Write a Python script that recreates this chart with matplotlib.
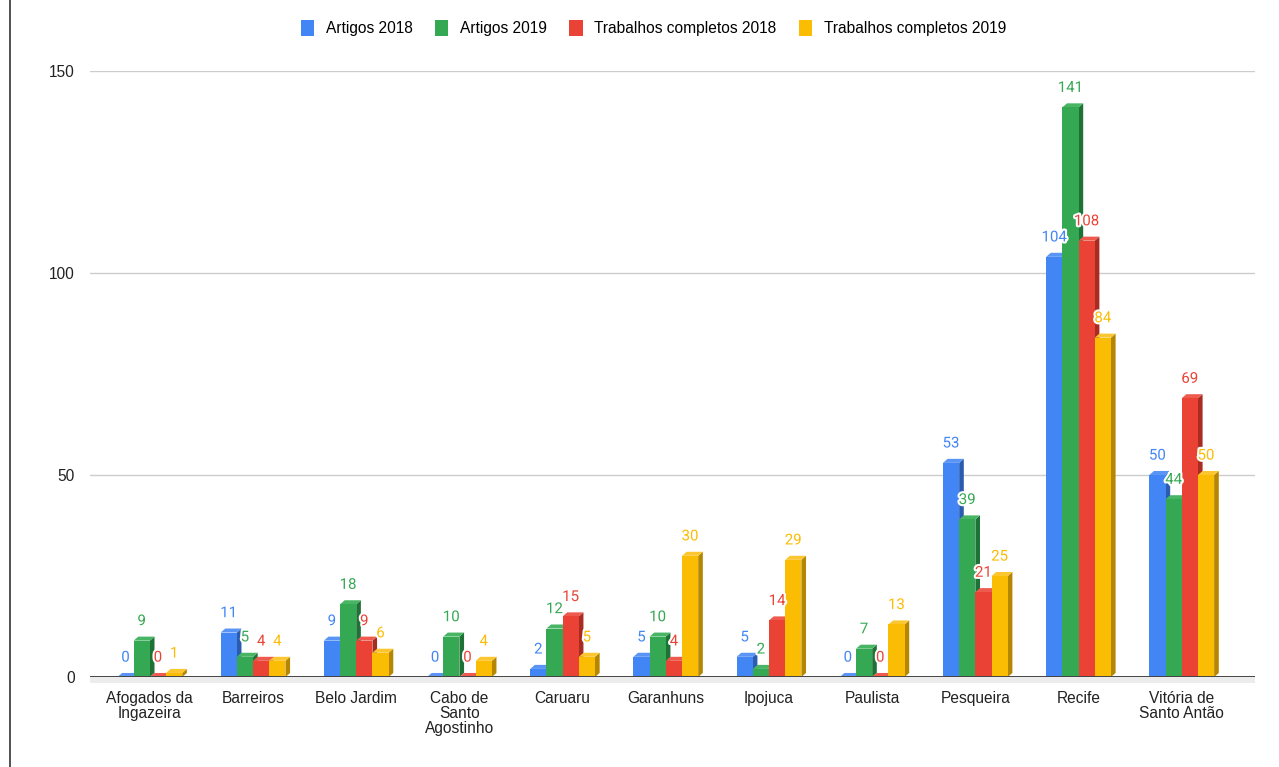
import matplotlib
matplotlib.use("Agg")
import matplotlib.pyplot as plt
import matplotlib.patheffects as pe
from matplotlib.patches import Polygon, Patch
from matplotlib.lines import Line2D
import numpy as np

categories = ["Afogados da\nIngazeira", "Barreiros", "Belo Jardim", "Cabo de\nSanto\nAgostinho",
              "Caruaru", "Garanhuns", "Ipojuca", "Paulista", "Pesqueira", "Recife",
              "Vitória de\nSanto Antão"]
series_names = ["Artigos 2018", "Artigos 2019", "Trabalhos completos 2018", "Trabalhos completos 2019"]
artigos_2018 = [0, 11, 9, 0, 2, 5, 5, 0, 53, 104, 50]
artigos_2019 = [9, 5, 18, 10, 12, 10, 2, 7, 39, 141, 44]
trabalhos_2018 = [0, 4, 9, 0, 15, 4, 14, 0, 21, 108, 69]
trabalhos_2019 = [1, 4, 6, 4, 5, 30, 29, 13, 25, 84, 50]
yticks = [0, 50, 100, 150]

colors = ["#4285F4", "#34A853", "#EA4335", "#FBBC04"]
side_colors = ["#2c5cb0", "#1f7236", "#a82c22", "#b58600"]
top_colors = ["#5a95f5", "#48b565", "#ee5a4d", "#fcc630"]

all_series = [artigos_2018, artigos_2019, trabalhos_2018, trabalhos_2019]

fig = plt.figure(figsize=(12.79, 7.67), dpi=100)
ax = fig.add_axes([90 / 1279, 1 - 677 / 767, (1255 - 90) / 1279, (677 - 71) / 767])
ax.set_xlim(-0.58, 10.71)
ax.set_ylim(0, 150)

# grid
for t in yticks[1:]:
    ax.axhline(t, color="#cccccc", lw=1, zorder=0)
ax.axhline(0, color="#444444", lw=1.4, zorder=50)
ax.fill_between([-0.58, 10.71], -1.6, 0, color="#ececec", clip_on=False, zorder=0, lw=0)

w = 0.157
dx = 0.045
dy = 1.0
x = np.arange(len(categories))
n = len(all_series)
z = 2
for s, vals in enumerate(all_series):
    offs = (s - (n - 1) / 2) * w
    for i, v in enumerate(vals):
        xc = x[i] + offs
        l, r = xc - w / 2, xc + w / 2
        front = Polygon([(l, 0), (r, 0), (r, v), (l, v)], closed=True,
                        facecolor=colors[s], edgecolor="none", zorder=z + 0.3, clip_on=False)
        side = Polygon([(r, 0), (r + dx, dy), (r + dx, v + dy), (r, v)], closed=True,
                       facecolor=side_colors[s], edgecolor="none", zorder=z + 0.1, clip_on=False)
        top = Polygon([(l, v), (l + dx, v + dy), (r + dx, v + dy), (r, v)], closed=True,
                      facecolor=top_colors[s], edgecolor="none", zorder=z + 0.2, clip_on=False)
        ax.add_patch(side)
        ax.add_patch(top)
        ax.add_patch(front)
        ax.text(xc, v + 4.8, str(v), ha="center", va="center", fontsize=10.8,
                family="Roboto", color=colors[s], zorder=100,
                path_effects=[pe.withStroke(linewidth=3, foreground="white")])
    z += 1

for sp in ax.spines.values():
    sp.set_visible(False)
ax.set_yticks(yticks)
ax.set_yticklabels([str(t) for t in yticks], family="Liberation Sans", fontsize=11.2, color="#222222")
ax.tick_params(axis="y", length=0, pad=11)
ax.set_xticks(x)
ax.set_xticklabels(categories, family="Liberation Sans", fontsize=11.2, color="#222222",
                   linespacing=1.0)
ax.tick_params(axis="x", length=0, pad=10)

handles = [Patch(facecolor=c, edgecolor="none") for c in colors]
fig.legend(handles, series_names, loc="center", bbox_to_anchor=(0.511, 1 - 28 / 767), ncol=4,
           frameon=False, prop={"family": "Liberation Sans", "size": 11.2},
           handlelength=0.85, handleheight=1.25, handletextpad=0.75, columnspacing=1.45)

fig.add_artist(Line2D([9.5 / 1279, 9.5 / 1279], [0, 1], color="#333333", lw=1.2))

fig.savefig("out.png", dpi=100)
